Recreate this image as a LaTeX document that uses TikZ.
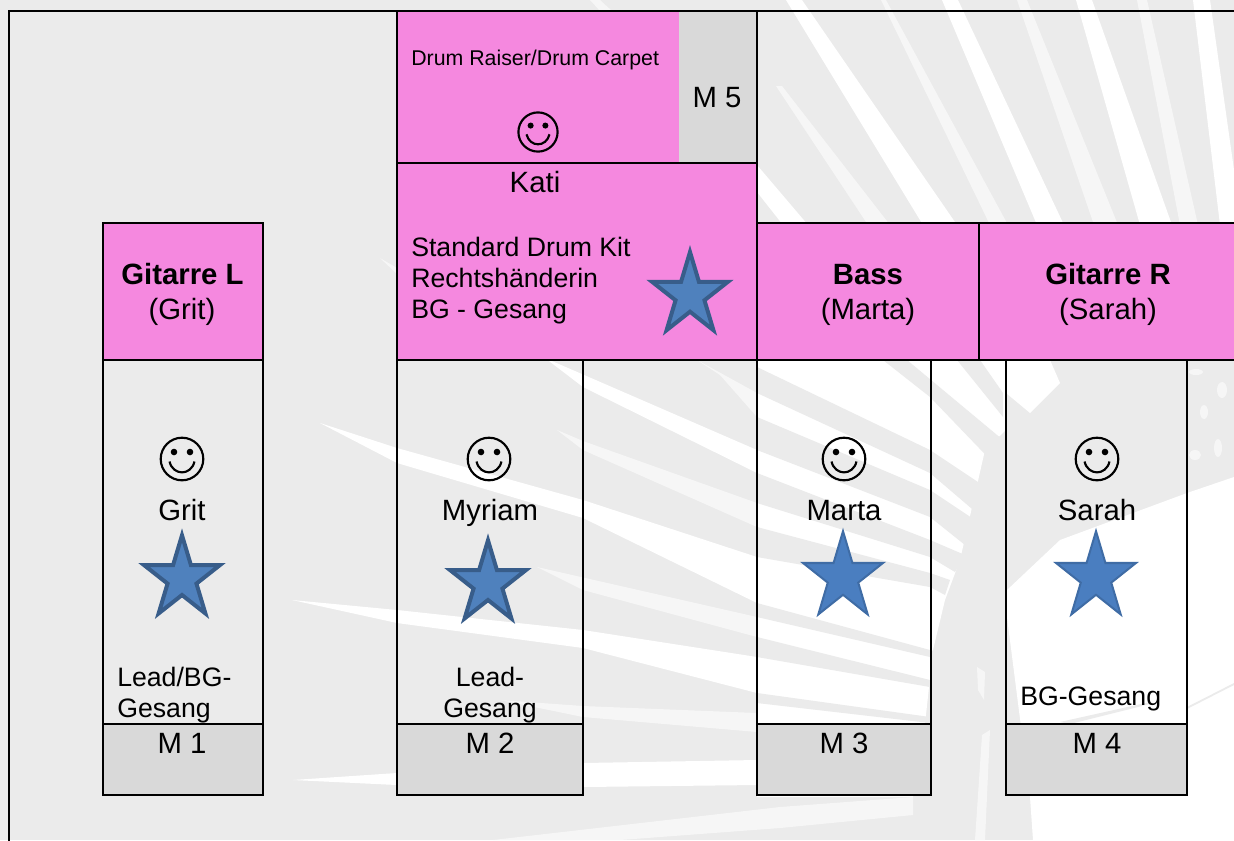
\documentclass[tikz,border=0pt]{standalone}
\usepackage{fontspec}
\setmainfont{Liberation Sans}
\definecolor{bgray}{HTML}{EBEBEB}
\definecolor{softw}{HTML}{F6F6F6}
\definecolor{mgray}{HTML}{D9D9D9}
\definecolor{pinkbox}{HTML}{F588DF}
\definecolor{starfill}{HTML}{4F81BD}
\definecolor{starline}{HTML}{385D8A}
\definecolor{starfillb}{HTML}{4A7EC0}
\definecolor{starlineb}{HTML}{3F6CA5}
\tikzset{
  px/.style={x=0.75pt,y=-0.75pt},
  wm/.style={fill=white,draw=none},
  wsoft/.style={fill=softw,draw=none},
  gm/.style={fill=bgray,draw=none},
  frameline/.style={draw=black,line width=1.4pt},
  pinkrect/.style={fill=pinkbox,frameline},
  micrect/.style={fill=mgray,frameline},
  lab/.style={font=\fontsize{22pt}{26pt}\selectfont,inner sep=0pt,anchor=base,text=black},
  lableft/.style={lab,anchor=base west,font=\fontsize{20pt}{24pt}\selectfont},
  labc/.style={lab,font=\fontsize{20pt}{24pt}\selectfont},
  smalllab/.style={lableft,font=\fontsize{16pt}{19pt}\selectfont},
  boldlab/.style={lab,font=\fontsize{22pt}{26pt}\selectfont\bfseries},
  pics/starthick/.style={code={
    \draw[fill=starfill,draw=starline,line width=3pt,miter limit=10]
      (0,-1)--(.2245,-.309)--(.951,-.309)--(.363,.118)--(.588,.809)--(0,.382)
      --(-.588,.809)--(-.363,.118)--(-.951,-.309)--(-.2245,-.309)--cycle;}},
  pics/starthin/.style={code={
    \draw[fill=starfillb,draw=starlineb,line width=1.5pt,miter limit=10]
      (0,-1)--(.2245,-.309)--(.951,-.309)--(.363,.118)--(.588,.809)--(0,.382)
      --(-.588,.809)--(-.363,.118)--(-.951,-.309)--(-.2245,-.309)--cycle;}},
  pics/smiley/.style={code={
    \draw[black,line width=1.6pt] (0,0) circle[radius=21.3];
    \fill[black] (-8,-7) circle[radius=3.3] (8,-7) circle[radius=3.3];
    \draw[black,line width=1.6pt] (-12.5,2.5) .. controls (-9,17) and (9,17) .. (12.5,2.5);}},
}
\begin{document}
\begin{tikzpicture}[px]
\useasboundingbox (0,0) rectangle (1234,840);
\clip (0,0) rectangle (1234,840);
\fill[bgray] (0,0) rectangle (1234,840);
% watermark: upper fronds
\fill[wm] (786,0)--(802,0)--(957,225)--(923,225)--cycle;
\fill[wsoft] (881,0)--(886,0)--(1008,225)--(990,225)--cycle;
\fill[wsoft] (776,86)--(782,86)--(890,225)--(868,225)--cycle;
\fill[wm] (942,0)--(958,0)--(1064,225)--(1037,225)--cycle;
\fill[wsoft] (1017,0)--(1027,0)--(1118,225)--(1094,225)--cycle;
\fill[wm] (1076,0)--(1092,0)--(1172,225)--(1140,225)--cycle;
\fill[wsoft] (1137,0)--(1147,0)--(1198,225)--(1180,225)--cycle;
\fill[wm] (1193,0)--(1210,0)--(1234,170)--(1234,225)--(1220,225)--cycle;
\fill[wm] (757,165)--(808,225)--(783,225)--(757,192)--cycle;
\fill[wsoft] (590,0)--(600,0)--(612,11)--(600,11)--cycle;
\fill[wsoft] (380,258)--(397,268)--(397,274)--cycle;
% watermark: left fronds
\fill[wm] (545,358)--(757,450)--(757,473)--(583,387)--cycle;
\fill[wsoft] (697,360)--(757,393)--(757,417)--(720,375)--cycle;
\fill[wsoft] (557,430)--(583,441)--(757,503)--(757,527)--(583,450)--cycle;
\fill[wm] (320,423)--(397,448)--(583,500)--(757,557)--(757,603)--(583,518)--(397,463)--cycle;
\fill[wsoft] (537,567)--(757,617)--(757,637)--(583,590)--cycle;
\fill[wm] (292,600)--(397,610)--(583,630)--(757,657)--(757,693)--(583,648)--(397,623)--cycle;
\fill[wsoft] (500,700)--(583,706)--(757,713)--(757,732)--(583,717)--cycle;
\fill[wm] (293,780)--(397,773)--(583,763)--(757,760)--(757,785)--(583,787)--(397,785)--cycle;
\fill[wsoft] (493,840)--(780,807)--(913,797)--(913,815)--(780,828)--(620,840)--cycle;
% watermark: white field left of the stem, with grey bands
\fill[wm] (757,360)--(1006,360)--(1006,430)--(985,450)--(960,560)--(945,600)--(933,650)--(925,724)--(913,797)--(757,797)--cycle;
\fill[gm] (883,360)--(907,360)--(1003,440)--(1003,473)--(930,397)--cycle;
\fill[gm] (957,360)--(980,360)--(1003,393)--(1003,417)--cycle;
\fill[gm] (757,367)--(930,450)--(990,490)--(985,520)--(930,473)--(757,393)--cycle;
\fill[gm] (757,417)--(930,490)--(975,520)--(965,545)--(930,517)--(757,450)--cycle;
\fill[gm] (757,473)--(930,540)--(965,555)--(955,572)--(930,557)--(757,503)--cycle;
\fill[gm] (757,527)--(930,573)--(950,580)--(945,595)--(930,587)--(757,557)--cycle;
\fill[gm] (757,603)--(930,650)--(940,652)--(935,660)--(930,657)--(757,617)--cycle;
\fill[gm] (757,637)--(930,680)--(930,687)--(757,657)--cycle;
\fill[gm] (757,693)--(930,717)--(930,723)--(757,703)--cycle;
% watermark: white field right of the stem
\fill[wm] (1007,590)--(1060,540)--(1187,493)--(1234,477)--(1234,840)--(1033,840)--(1030,797)--(1007,617)--cycle;
\fill[wm] (1006,360)--(1050,360)--(1060,383)--(1030,413)--(1006,393)--cycle;
\fill[wsoft] (977,667)--(985,672)--(984,700)--(978,690)--cycle;
\fill[wsoft] (982,735)--(990,730)--(985,840)--(975,840)--cycle;
\fill[gm] (1187,707)--(1234,683)--(1234,685)--(1187,709)--cycle;
\fill[gm] (1060,722)--(1150,702)--(1150,704)--(1070,724)--cycle;
% watermark: speckles
\fill[wsoft] (1196,372) ellipse[x radius=7,y radius=3];
\fill[wsoft] (1222,390) ellipse[x radius=5,y radius=8];
\fill[wsoft] (1204,412) ellipse[x radius=4,y radius=7];
\fill[wsoft] (1195,455) ellipse[x radius=6,y radius=5];
\fill[wsoft] (1218,448) ellipse[x radius=4,y radius=9];
% outer frame
\draw[frameline] (9,850)--(9,11)--(1244,11);
% column 1
\draw[frameline] (103,360) rectangle (263,724);
\draw[micrect] (103,724) rectangle (263,795);
\draw[pinkrect] (103,223) rectangle (263,360);
% column 2
\draw[frameline] (397,360) rectangle (583,724);
\draw[micrect] (397,724) rectangle (583,795);
% column 3
\draw[frameline] (757,360) rectangle (931,724);
\draw[micrect] (757,724) rectangle (931,795);
% column 4
\draw[frameline] (1006,360) rectangle (1187,724);
\draw[micrect] (1006,724) rectangle (1187,795);
% drum block
\fill[pinkbox] (397,11) rectangle (679,163);
\fill[mgray] (679,11) rectangle (757,163);
\draw[frameline] (397,11) rectangle (757,163);
\draw[pinkrect] (397,163) rectangle (757,360);
% bass and guitar R
\draw[pinkrect] (757,223) rectangle (979,360);
\draw[pinkrect] (979,223) rectangle (1244,360);
% smileys
\pic at (182,459) {smiley};
\pic at (489,459) {smiley};
\pic at (844,459) {smiley};
\pic at (1097,459) {smiley};
\pic[scale=0.92] at (538,132) {smiley};
% stars
\pic[xscale=39.8,yscale=43.2] at (182,578.5) {starthick};
\pic[xscale=39.8,yscale=43.2] at (488,583.5) {starthick};
\pic[xscale=39.8,yscale=43.2] at (690,295.2) {starthick};
\pic[xscale=42,yscale=46] at (843,577.2) {starthin};
\pic[xscale=42,yscale=46] at (1096,577.2) {starthin};
% labels
\node[boldlab] (gl) at (182.5,284.5) {Gitarre L};
\node[lab] (gln) at (182,319.5) {(Grit)};
\node[boldlab] (ba) at (868,284.5) {Bass};
\node[lab] (ban) at (868,319.5) {(Marta)};
\node[boldlab] (gr) at (1108,284.5) {Gitarre R};
\node[lab] (grn) at (1108,319.5) {(Sarah)};
\node[smalllab] (dr) at (411,65) {Drum Raiser/Drum Carpet};
\node[lab] (m5) at (717,107) {M 5};
\node[lab] (kati) at (535,192) {Kati};
\node[lableft] (k1) at (411,256) {Standard Drum Kit};
\node[lableft] (k2) at (411,287) {Rechtshänderin};
\node[lableft] (k3) at (411,318) {BG - Gesang};
\node[lab] (n1) at (182,520.5) {Grit};
\node[lab] (n2) at (490,520.5) {Myriam};
\node[lab] (n3) at (844,520.5) {Marta};
\node[lab] (n4) at (1097,520.5) {Sarah};
\node[lableft] (v1a) at (117,686) {Lead/BG-};
\node[lableft] (v1b) at (117,717) {Gesang};
\node[labc] (v2a) at (490,686) {Lead-};
\node[labc] (v2b) at (490,717) {Gesang};
\node[lableft] (v4) at (1020,705) {BG-Gesang};
\node[lab] (m1) at (182,753) {M 1};
\node[lab] (m2) at (490,753) {M 2};
\node[lab] (m3) at (844,753) {M 3};
\node[lab] (m4) at (1097,753) {M 4};
\end{tikzpicture}
\end{document}
